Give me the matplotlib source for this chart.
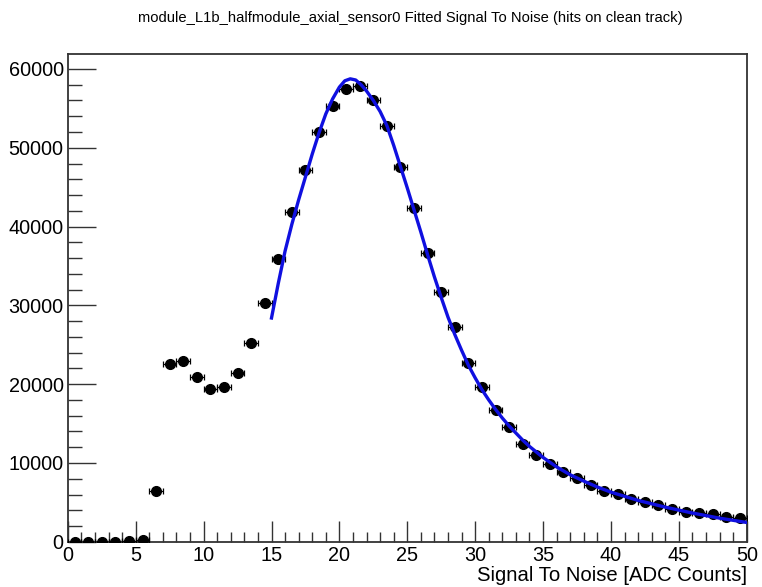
import numpy as np
import matplotlib
matplotlib.use("Agg")
import matplotlib.pyplot as plt
from matplotlib.ticker import MultipleLocator

plt.rcParams['font.family'] = ['Liberation Sans', 'DejaVu Sans']

# histogram bins (centers) and contents
bin_centers = np.arange(0.5, 50, 1.0)
counts = [0, 0, 0, 0, 50, 200, 6500, 22500, 23000, 20900,
          19400, 19600, 21400, 25200, 30300, 35900, 41900, 47200, 52000, 55300,
          57400, 57900, 56000, 52800, 47500, 42400, 36600, 31700, 27200, 22660,
          19650, 16740, 14620, 12460, 11030, 9890, 8910, 8110, 7230, 6470,
          6090, 5450, 5010, 4690, 4140, 3840, 3640, 3550, 3200, 3000]

# fitted curve
fit_x = [15.0, 15.5, 16.0, 16.5, 17.0, 17.5, 18.0, 18.5, 19.0, 19.5,
         20.0, 20.4, 20.8, 21.2, 21.6, 22.0, 22.5, 23.0, 23.5, 24.0,
         24.5, 25.0, 25.5, 26.0, 26.5, 27.0, 27.5, 28.0, 28.5, 29.0,
         29.5, 30.0, 30.5, 31.0, 31.5, 32.0, 32.5, 33.0, 33.5, 34.0,
         35.0, 36.0, 37.0, 38.0, 39.0, 40.0, 42.0, 44.0, 46.0, 48.0, 50.0]
fit_y = [28400, 32800, 36900, 40300, 43400, 46300, 49200, 51900, 54300, 56200,
         57700, 58500, 58750, 58600, 58000, 57200, 56000, 54600, 52800, 50300,
         47600, 44900, 42100, 39300, 36400, 33600, 31000, 28500, 26300, 24300,
         22400, 20800, 19300, 18000, 16800, 15700, 14700, 13800, 12900, 12100,
         10700, 9500, 8500, 7700, 6950, 6300, 5250, 4400, 3650, 3000, 2450]

fig = plt.figure(figsize=(7.62, 5.87), dpi=100)
ax = fig.add_axes([0.089, 0.077, 0.891, 0.831])

yerr = np.sqrt(counts)
ax.errorbar(bin_centers, counts, xerr=0.5, yerr=yerr, fmt='o', color='black',
            markersize=7, elinewidth=0.9, capsize=2, capthick=0.9, zorder=3)
ax.plot(fit_x, fit_y, color='#1010e0', linewidth=2.4, zorder=4)

ax.set_xlim(0, 50)
ax.set_ylim(0, 61900)
ax.xaxis.set_major_locator(MultipleLocator(5))
ax.xaxis.set_minor_locator(MultipleLocator(1))
ax.yaxis.set_major_locator(MultipleLocator(10000))
ax.yaxis.set_minor_locator(MultipleLocator(2000))
ax.tick_params(axis='both', which='both', direction='in', top=False, right=False,
               labelsize=14.3, width=1.0, color='#333333')
ax.tick_params(axis='x', which='major', length=15, pad=3)
ax.tick_params(axis='x', which='minor', length=7.5)
ax.tick_params(axis='y', which='major', length=20, pad=3)
ax.tick_params(axis='y', which='minor', length=10)
for s in ax.spines.values():
    s.set_linewidth(1.3)
    s.set_color('#333333')

ax.set_xlabel("Signal To Noise [ADC Counts]", fontsize=14.6, loc='right', labelpad=1)
fig.text(0.539, 0.97, "module_L1b_halfmodule_axial_sensor0 Fitted Signal To Noise (hits on clean track)",
         ha='center', va='center', fontsize=10.6)

fig.savefig("out.png", dpi=100)
